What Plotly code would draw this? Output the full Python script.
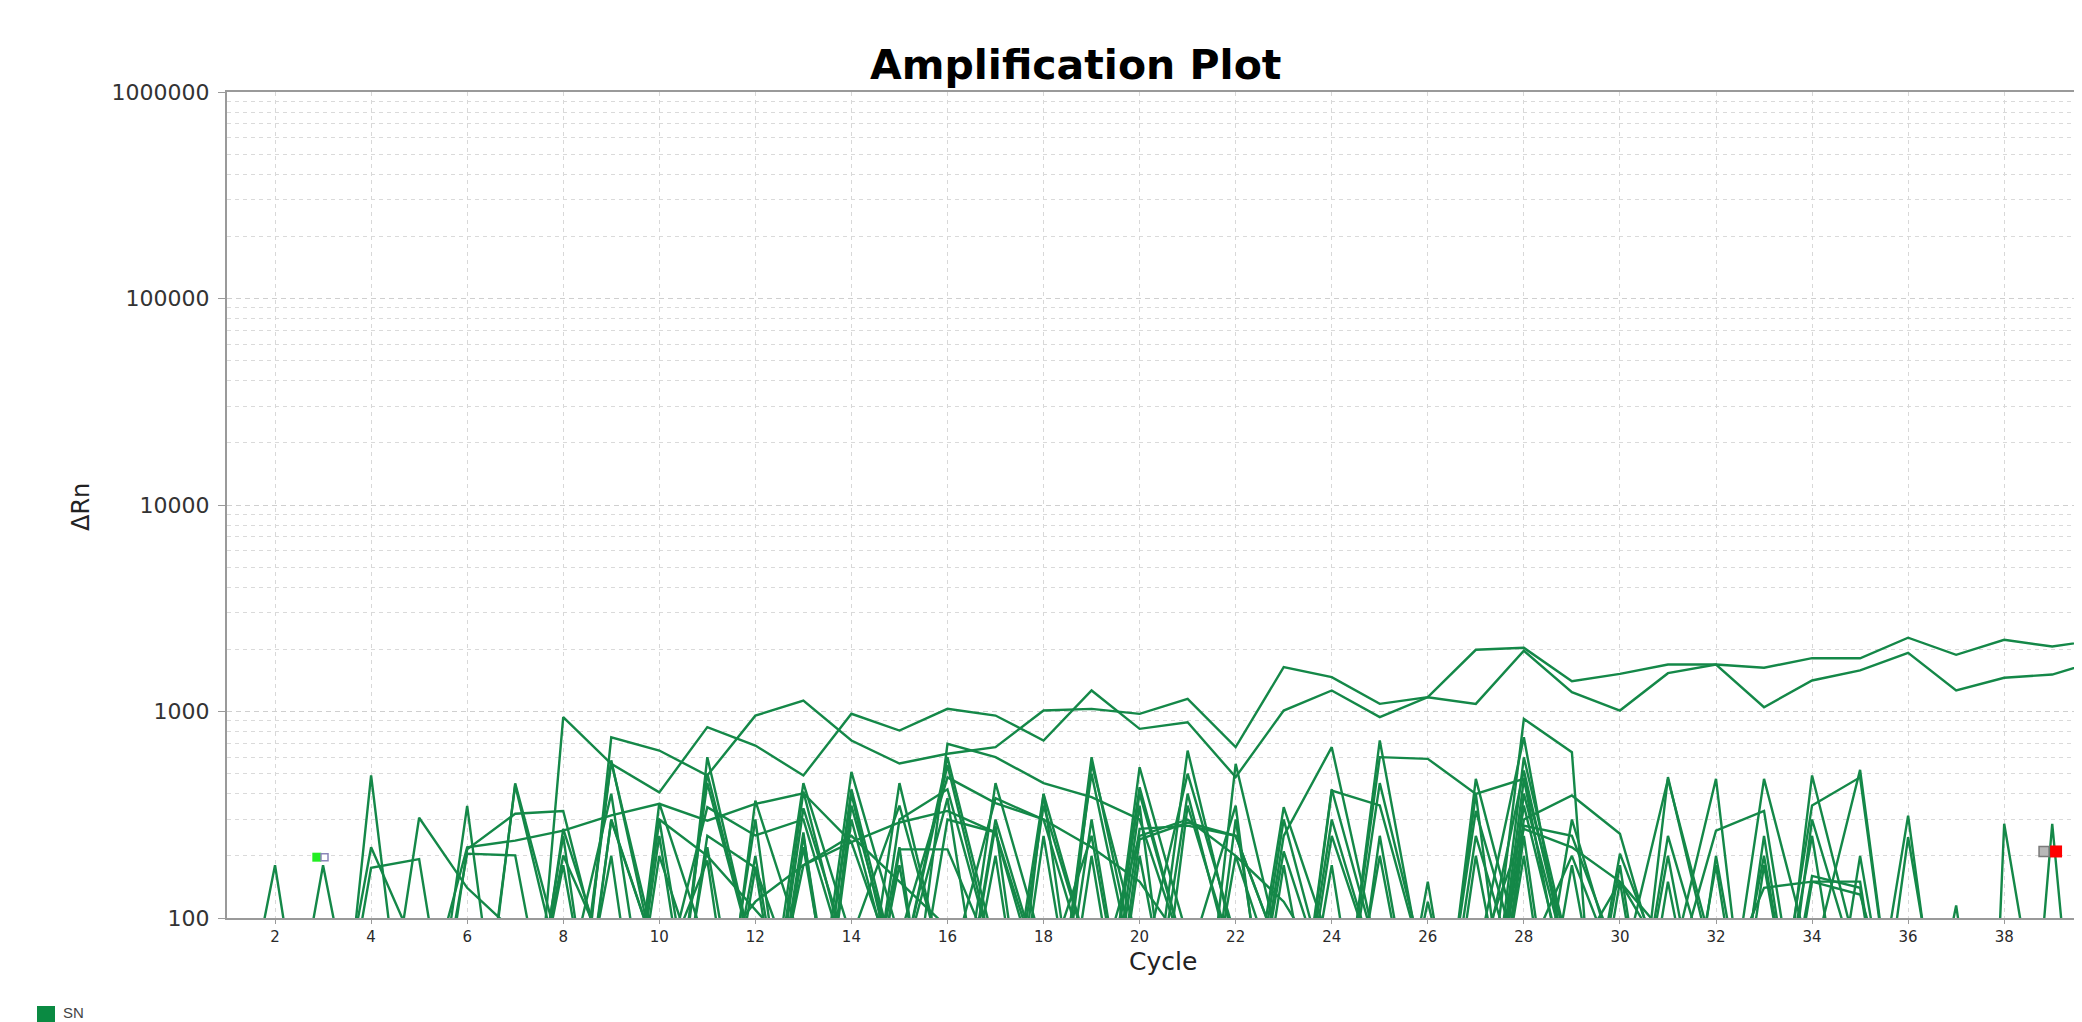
import plotly.graph_objects as go

# ---------------- data ----------------
cycles = list(range(1, 41))

well_01 = [8, 12, 6, 15, 9, 20, 14, 5, 750, 647,
           490, 955, 1130, 724, 560, 624, 672, 1011, 1030, 974,
           1152, 672, 1639, 1466, 1089, 1173, 1990, 2034, 1402, 1522,
           1689, 1689, 1628, 1812, 1811, 2276, 1882, 2225, 2064, 2230]
well_02 = [10, 7, 14, 9, 5, 11, 2, 940, 558, 406,
           840, 684, 490, 975, 809, 1030, 956, 724, 1264, 824,
           887, 481, 1011, 1264, 939, 1173, 1089, 1968, 1241, 1011,
           1533, 1689, 1049, 1413, 1581, 1925, 1265, 1457, 1510, 1770]
well_03 = [6, 9, 4, 12, 30, 220, 237, 265, 314, 357,
           296, 357, 402, 233, 290, 330, 260, 40, 12, 8,
           20, 5, 14, 9, 30, 6, 12, 8, 25, 10,
           6, 15, 9, 20, 7, 11, 5, 8, 12, 6]
well_04 = [5, 8, 3, 490, 6, 12, 4, 9, 15, 5,
           601, 60, 3, 11, 6, 20, 5, 9, 601, 45,
           4, 13, 6, 10, 5, 8, 12, 921, 635, 0.5,
           6, 9, 4, 12, 7, 5, 10, 3, 8, 6]
well_05 = [9, 4, 12, 220, 65, 8, 15, 5, 10, 40,
           344, 251, 300, 50, 12, 5, 9, 14, 6, 10,
           5, 12, 344, 70, 5, 12, 7, 472, 30, 6,
           13, 5, 8, 11, 4, 9, 6, 12, 5, 7]
well_06 = [7, 11, 5, 9, 306, 140, 85, 6, 297, 60,
           5, 14, 8, 400, 40, 12, 4, 399, 9, 537,
           80, 8, 12, 5, 10, 7, 399, 6, 13, 5,
           481, 50, 4, 10, 6, 12, 5, 9, 7, 11]
well_07 = [12, 180, 6, 4, 10, 205, 201, 12, 5, 9,
           7, 175, 6, 13, 450, 50, 5, 10, 6, 12,
           647, 70, 5, 11, 724, 40, 14, 6, 10, 205,
           50, 472, 5, 9, 12, 313, 6, 10, 4, 8]
well_08 = [4, 9, 180, 12, 6, 215, 320, 330, 40, 5,
           14, 8, 340, 60, 11, 697, 601, 450, 385, 300,
           60, 5, 12, 7, 10, 6, 60, 751, 40, 5,
           12, 9, 6, 490, 60, 7, 5, 9, 12, 6]
well_09 = [10, 5, 8, 175, 193, 7, 440, 50, 5, 360,
           70, 6, 10, 510, 80, 480, 360, 300, 50, 11,
           5, 558, 60, 6, 12, 8, 40, 518, 50, 10,
           5, 13, 472, 60, 522, 9, 6, 12, 5, 8]
well_10 = [6, 12, 9, 5, 8, 349, 6, 10, 580, 50,
           190, 5, 9, 8, 300, 420, 60, 12, 500, 40,
           10, 9, 250, 672, 60, 12, 8, 300, 392, 256,
           40, 265, 330, 12, 5, 246, 10, 7, 8, 12]
well_11 = [8, 5, 12, 7, 10, 6, 449, 60, 5, 9,
           6, 14, 180, 233, 50, 8, 12, 6, 560, 70,
           5, 11, 7, 414, 351, 50, 12, 6, 10, 5,
           9, 8, 12, 351, 480, 9, 6, 5, 12, 8]
well_12 = [11, 6, 9, 14, 5, 8, 12, 201, 60, 7,
           250, 175, 40, 10, 12, 300, 260, 50, 9, 270,
           280, 250, 60, 5, 12, 7, 250, 40, 6, 150,
           60, 8, 6, 150, 150, 5, 9, 12, 6, 10]
well_13 = [5, 10, 7, 12, 9, 5, 8, 14, 6, 200,
           40, 9, 12, 6, 215, 215, 60, 5, 10, 50,
           500, 80, 9, 300, 50, 6, 472, 60, 200, 50,
           10, 5, 12, 7, 200, 9, 6, 8, 5, 10]
well_14 = [9, 7, 5, 10, 12, 6, 9, 5, 12, 8,
           6, 10, 5, 12, 8, 6, 12, 399, 60, 6,
           5, 10, 7, 12, 601, 590, 399, 472, 60, 150,
           6, 12, 5, 9, 10, 6, 12, 8, 5, 9]
well_15 = [12, 5, 9, 6, 10, 8, 5, 12, 7, 9,
           6, 12, 8, 5, 10, 12, 6, 9, 5, 240,
           290, 250, 60, 6, 12, 9, 5, 280, 250, 60,
           6, 12, 8, 160, 140, 5, 10, 6, 9, 12]
well_16 = [7, 10, 5, 12, 8, 6, 11, 9, 570, 60,
           12, 8, 410, 50, 9, 12, 300, 50, 10, 6,
           9, 200, 40, 12, 8, 150, 6, 10, 12, 50,
           470, 60, 6, 12, 8, 5, 10, 7, 12, 6]
well_17 = [9, 6, 11, 5, 12, 8, 7, 270, 50, 6,
           500, 60, 5, 300, 40, 7, 10, 350, 60, 9,
           12, 5, 8, 420, 60, 6, 9, 12, 300, 50,
           5, 200, 10, 8, 6, 12, 9, 5, 10, 8]
well_18 = [5, 12, 8, 10, 6, 9, 12, 5, 300, 60,
           6, 370, 70, 12, 220, 5, 9, 7, 12, 430,
           60, 10, 210, 40, 12, 9, 330, 50, 8, 12,
           10, 5, 180, 9, 12, 6, 8, 10, 5, 12]
well_19 = [10, 8, 6, 12, 5, 7, 9, 250, 6, 300,
           12, 5, 250, 9, 50, 600, 70, 8, 300, 12,
           400, 50, 9, 5, 250, 12, 8, 600, 60, 6,
           12, 9, 5, 300, 50, 10, 6, 12, 9, 5]
well_20 = [6, 11, 9, 5, 12, 10, 8, 6, 12, 9,
           450, 60, 5, 350, 50, 12, 200, 6, 9, 5,
           350, 60, 8, 180, 6, 10, 5, 400, 50, 9,
           250, 40, 10, 5, 8, 12, 8, 6, 10, 9]
well_21 = [8, 5, 10, 12, 7, 6, 9, 12, 200, 5,
           9, 300, 6, 12, 50, 550, 60, 5, 12, 400,
           60, 10, 300, 40, 9, 120, 12, 8, 180, 10,
           6, 12, 200, 9, 5, 10, 12, 8, 6, 9]
well_22 = [12, 9, 6, 8, 10, 5, 12, 9, 6, 250,
           8, 12, 450, 80, 350, 50, 6, 250, 10, 12,
           5, 300, 9, 12, 450, 50, 10, 350, 40, 12,
           9, 180, 6, 10, 12, 8, 5, 9, 12, 6]
well_23 = [9, 12, 10, 6, 5, 8, 12, 180, 9, 6,
           10, 200, 8, 420, 50, 12, 450, 70, 5, 200,
           12, 6, 8, 250, 50, 5, 200, 12, 9, 180,
           6, 10, 12, 250, 9, 5, 8, 12, 6, 10]
well_24 = [6, 5, 12, 9, 10, 12, 6, 8, 5, 9,
           220, 10, 6, 12, 180, 8, 9, 50, 250, 12,
           8, 6, 180, 10, 12, 9, 5, 250, 6, 10,
           200, 12, 8, 6, 9, 10, 5, 12, 9, 6]
well_25 = [11, 8, 5, 6, 12, 9, 10, 40, 400, 12,
           6, 9, 220, 10, 50, 380, 12, 6, 200, 8,
           60, 350, 6, 9, 200, 12, 8, 200, 5, 10,
           12, 6, 250, 8, 10, 9, 12, 5, 6, 8]
well_26 = [8, 6, 10, 5, 9, 12, 6, 8, 10, 5,
           12, 9, 6, 10, 8, 5, 12, 9, 6, 10,
           5, 8, 12, 6, 9, 10, 5, 12, 8, 6,
           10, 5, 9, 12, 6, 8, 115, 3, 5, 9]
well_27 = [6, 9, 12, 5, 10, 8, 6, 9, 12, 5,
           10, 8, 260, 6, 9, 12, 5, 10, 8, 350,
           6, 9, 12, 5, 10, 8, 6, 9, 12, 5,
           6, 9, 12, 5, 10, 8, 0.001, 286, 12, 8]
well_28 = [9, 5, 8, 12, 6, 10, 9, 5, 8, 12,
           6, 10, 9, 5, 8, 12, 280, 6, 10, 9,
           5, 8, 12, 6, 10, 9, 5, 8, 12, 6,
           150, 10, 9, 5, 8, 12, 6, 0.5, 286, 1]
well_29 = [8, 5, 10, 6, 12, 9, 5, 10, 7, 300,
           200, 110, 60, 10, 8, 12, 5, 9, 10, 6,
           12, 8, 5, 9, 10, 12, 6, 8, 5, 12,
           9, 10, 6, 8, 5, 12, 10, 6, 9, 8]
well_30 = [10, 6, 9, 12, 5, 8, 10, 12, 6, 9,
           5, 12, 8, 10, 6, 50, 380, 300, 220, 150,
           70, 9, 12, 6, 10, 5, 8, 12, 6, 9,
           10, 5, 8, 12, 6, 9, 10, 5, 8, 12]
well_31 = [6, 12, 8, 5, 10, 9, 12, 6, 8, 10,
           5, 9, 12, 8, 6, 10, 5, 12, 40, 250,
           300, 200, 120, 50, 8, 12, 6, 9, 10, 5,
           12, 8, 6, 9, 10, 5, 12, 8, 6, 9]
well_32 = [9, 10, 6, 8, 12, 5, 9, 10, 6, 12,
           8, 5, 10, 9, 12, 6, 8, 10, 5, 9,
           12, 6, 8, 10, 5, 9, 60, 270, 220, 150,
           80, 10, 6, 12, 8, 5, 9, 10, 6, 8]
well_33 = [12, 8, 5, 9, 10, 6, 12, 8, 10, 5,
           9, 12, 6, 8, 10, 5, 9, 12, 8, 6,
           10, 5, 9, 12, 6, 8, 10, 5, 9, 12,
           6, 40, 140, 150, 130, 20, 8, 10, 5, 9]
well_34 = [5, 9, 12, 8, 6, 10, 12, 5, 9, 8,
           60, 120, 180, 250, 150, 90, 12, 6, 10, 9,
           5, 12, 8, 6, 10, 9, 5, 12, 8, 6,
           10, 9, 5, 12, 8, 6, 10, 9, 5, 12]

all_wells = [well_01, well_02, well_03, well_04, well_05, well_06, well_07,
             well_08, well_09, well_10, well_11, well_12, well_13, well_14,
             well_15, well_16, well_17, well_18, well_19, well_20, well_21,
             well_22, well_23, well_24, well_25, well_26, well_27, well_28,
             well_29, well_30, well_31, well_32, well_33, well_34]

# threshold / baseline handle markers
start_handle_x = [2.87]
start_handle_y = [197]
start_box_x = [3.03]
start_box_y = [197]
end_grey_x = [38.83]
end_grey_y = [210]
end_red_x = [39.08]
end_red_y = [210]

y_tickvals = [100, 1000, 10000, 100000, 1000000]
y_ticktext = ["100", "1000", "10000", "100000", "1000000"]
x_tickvals = list(range(2, 40, 2))
y_minor_vals = [m * 10 ** e for e in range(2, 6) for m in range(2, 10)]

series_name = "SN"
line_color = "rgb(20,136,72)"

# ---------------- figure ----------------
# page body has an 8px margin; figure is sized so its right/bottom edges
# meet the 2082x1022 window
OFF = 8
W, H = 2074, 1014
L, R, T, B = 219, 0, 84, 104
pw, ph = W - L - R, H - T - B


def px_x(page_px):
    return (page_px - OFF - L) / pw


def px_y(page_py):
    return (H - B - (page_py - OFF)) / ph


fig = go.Figure()
for w in all_wells:
    fig.add_trace(go.Scatter(x=cycles, y=w, mode="lines",
                             line=dict(color=line_color, width=2.4),
                             showlegend=False, hoverinfo="skip"))

fig.add_trace(go.Scatter(x=start_handle_x, y=start_handle_y, mode="markers",
                         marker=dict(symbol="square", size=9, color="#22ee22",
                                     line=dict(width=0)),
                         showlegend=False, hoverinfo="skip"))
fig.add_trace(go.Scatter(x=start_box_x, y=start_box_y, mode="markers",
                         marker=dict(symbol="square", size=7, color="white",
                                     line=dict(width=1.5, color="#8a86b8")),
                         showlegend=False, hoverinfo="skip"))
fig.add_trace(go.Scatter(x=end_grey_x, y=end_grey_y, mode="markers",
                         marker=dict(symbol="square", size=10, color="#b8b8b8",
                                     line=dict(width=1.5, color="#7a7a7a")),
                         showlegend=False, hoverinfo="skip"))
fig.add_trace(go.Scatter(x=end_red_x, y=end_red_y, mode="markers",
                         marker=dict(symbol="square", size=12, color="#ff0000",
                                     line=dict(width=0)),
                         showlegend=False, hoverinfo="skip"))

fig.update_layout(
    width=W, height=H, autosize=False,
    margin=dict(l=L, r=R, t=T, b=B, pad=0, autoexpand=False),
    paper_bgcolor="white", plot_bgcolor="white",
    font=dict(family="DejaVu Sans", color="#333333"),
    showlegend=False,
    xaxis=dict(
        range=[1, 39.62], tickvals=x_tickvals, ticks="outside", ticklen=4,
        tickcolor="#999999", tickfont=dict(size=15, color="#2a2a2a"),
        showline=True, linecolor="#9a9a9a", linewidth=2, mirror=True,
        showgrid=True, gridcolor="#d8d8d8", gridwidth=1, griddash="4px,4px",
        zeroline=False,
    ),
    yaxis=dict(
        type="log", range=[2, 6], tickvals=y_tickvals, ticktext=y_ticktext,
        ticks="outside", ticklen=7, tickcolor="#9a9a9a",
        ticklabelstandoff=4,
        tickfont=dict(size=22, color="#333333"),
        showline=True, linecolor="#9a9a9a", linewidth=2,
        showgrid=True, gridcolor="#cfcfcf", gridwidth=1, griddash="5px,4px",
        zeroline=False,
        minor=dict(tickvals=y_minor_vals, showgrid=True, gridcolor="#dadada",
                   gridwidth=1, griddash="4px,4px", ticks=""),
    ),
    shapes=[
        dict(type="rect", xref="paper", yref="paper",
             x0=px_x(37), x1=px_x(55), y0=px_y(1022), y1=px_y(1006),
             fillcolor="#0a8a42", line=dict(width=0)),
    ],
    annotations=[
        dict(text="Amplification Plot", xref="paper", yref="paper",
             x=px_x(1075), y=px_y(65), xanchor="center", yanchor="middle",
             showarrow=False,
             font=dict(family="DejaVu Sans", size=41, color="black",
                       weight="bold")),
        dict(text="Cycle", xref="paper", yref="paper",
             x=px_x(1163), y=px_y(961), xanchor="center", yanchor="middle",
             showarrow=False, font=dict(family="DejaVu Sans", size=25,
                                        color="#222222")),
        dict(text="ΔRn", xref="paper", yref="paper", textangle=-90,
             x=px_x(81), y=px_y(507), xanchor="center", yanchor="middle",
             showarrow=False, font=dict(family="DejaVu Sans", size=24,
                                        color="#222222")),
        dict(text=series_name, xref="paper", yref="paper",
             x=px_x(61), y=px_y(1012), xanchor="left", yanchor="middle",
             showarrow=False, font=dict(family="Liberation Sans", size=15,
                                        color="#444444")),
    ],
)

fig.write_html("out.html")
